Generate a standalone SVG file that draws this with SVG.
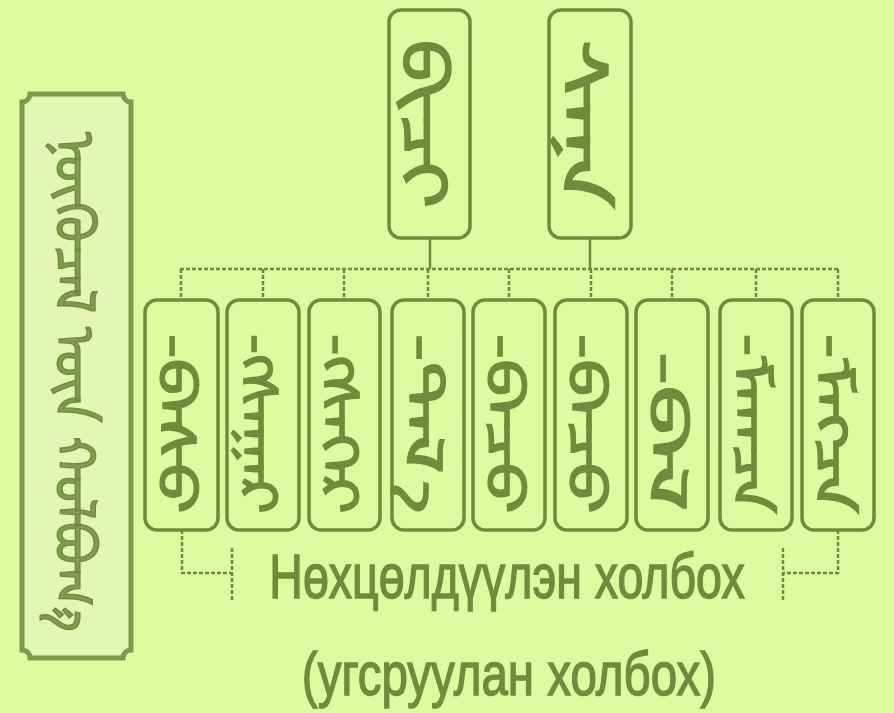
<svg xmlns="http://www.w3.org/2000/svg" width="894" height="713" viewBox="0 0 894 713">
<style>
.box{fill:none;stroke:#6e8c3c;stroke-width:3.5}
.ln{stroke:#6e8c3c;stroke-width:2.5;fill:none}
.dash{stroke:#6e8c3c;stroke-width:2.5;fill:none;stroke-dasharray:4 2}
.mn{font-family:"Noto Sans Mongolian","Mongolian Baiti","DejaVu Sans",sans-serif;fill:#6e8c3c;stroke:#6e8c3c;stroke-width:1.4;text-anchor:middle;dominant-baseline:central}
.cy{font-family:"Liberation Sans",Arial,sans-serif;fill:#6e8c3c;stroke:#6e8c3c;stroke-width:1.5;text-anchor:middle}
</style>
<rect width="894" height="713" fill="#dffb9f"/>

<g id="left-box">
<path d="M30,94 H123 a8,8 0 0 0 8,8 V650 a8,8 0 0 0 -8,8 H30 a8,8 0 0 0 -8,-8 V102 a8,8 0 0 0 8,-8 Z" fill="#e3f6b3" stroke="#7d9a4c" stroke-width="5"/>
<text class="mn" transform="translate(88,382) rotate(90)" font-size="56" fill-opacity="0.85" textLength="500" lengthAdjust="spacingAndGlyphs">ᠨᠥᠬᠥᠴᠡᠯ ᠦᠨ ᠬᠣᠯᠪᠣᠭ᠎ᠠ</text>
</g>

<g id="top-1">
<rect class="box" x="389" y="10" width="81" height="228" rx="12"/>
<text class="mn" transform="translate(438,124) rotate(90)" font-size="64" textLength="170" lengthAdjust="spacingAndGlyphs">ᠪᠢᠴᠢ</text>
</g>
<g id="top-2">
<rect class="box" x="549" y="10" width="82" height="228" rx="12"/>
<text class="mn" transform="translate(598,124) rotate(90)" font-size="64" textLength="170" lengthAdjust="spacingAndGlyphs">ᠰᠠᠨᠠ</text>
</g>

<g id="connectors">
<line class="ln" x1="430" y1="238" x2="430" y2="269"/>
<line class="ln" x1="590" y1="238" x2="590" y2="269"/>
<line class="dash" x1="180" y1="269" x2="840" y2="269"/>
<path class="dash" d="M181,269V300 M263,269V300 M344,269V300 M428,269V300 M509,269V300 M591,269V300 M672,269V300 M756,269V300 M838,269V300"/>
<path class="dash" d="M182,530V573H232 M232,548V602"/>
<path class="dash" d="M838,530V573H783 M783,548V602"/>
</g>

<g id="s1"><rect class="box" x="145" y="300" width="73" height="230" rx="12"/><text class="mn" transform="translate(188,424) rotate(90)" font-size="52" textLength="180" lengthAdjust="spacingAndGlyphs">-ᠪᠠᠰᠤ</text></g>
<g id="s2"><rect class="box" x="227" y="300" width="72" height="230" rx="12"/><text class="mn" transform="translate(270,424) rotate(90)" font-size="52" textLength="180" lengthAdjust="spacingAndGlyphs">-ᠭᠰᠠᠭᠠᠷ</text></g>
<g id="s3"><rect class="box" x="309" y="300" width="71" height="230" rx="12"/><text class="mn" transform="translate(351,424) rotate(90)" font-size="52" textLength="180" lengthAdjust="spacingAndGlyphs">-ᠭᠰᠡᠭᠡᠷ</text></g>
<g id="s4"><rect class="box" x="392" y="300" width="72" height="230" rx="12"/><text class="mn" transform="translate(435,424) rotate(90)" font-size="52" textLength="180" lengthAdjust="spacingAndGlyphs">-ᠲᠠᠯ᠎ᠠ</text></g>
<g id="s5"><rect class="box" x="473" y="300" width="72" height="230" rx="12"/><text class="mn" transform="translate(516,424) rotate(90)" font-size="52" textLength="180" lengthAdjust="spacingAndGlyphs">-ᠪᠠᠴᠤ</text></g>
<g id="s6"><rect class="box" x="555" y="300" width="72" height="230" rx="12"/><text class="mn" transform="translate(598,424) rotate(90)" font-size="52" textLength="180" lengthAdjust="spacingAndGlyphs">-ᠪᠡᠴᠦ</text></g>
<g id="s7"><rect class="box" x="636" y="300" width="72" height="230" rx="12"/><text class="mn" transform="translate(679,432) rotate(90)" font-size="52" textLength="160" lengthAdjust="spacingAndGlyphs">-ᠪᠡᠯ</text></g>
<g id="s8"><rect class="box" x="720" y="300" width="72" height="230" rx="12"/><text class="mn" transform="translate(763,424) rotate(90)" font-size="52" textLength="180" lengthAdjust="spacingAndGlyphs">-ᠮᠠᠭᠴᠠ</text></g>
<g id="s9"><rect class="box" x="802" y="300" width="72" height="230" rx="12"/><text class="mn" transform="translate(845,424) rotate(90)" font-size="52" textLength="180" lengthAdjust="spacingAndGlyphs">-ᠮᠡᠭᠴᠡ</text></g>

<g id="caption">
<text class="cy" transform="translate(507,598) scale(0.75,1)" font-size="62">Нөхцөлдүүлэн холбох</text>
<text class="cy" transform="translate(509,695) scale(0.766,1)" font-size="62">(угсруулан холбох)</text>
</g>
</svg>
